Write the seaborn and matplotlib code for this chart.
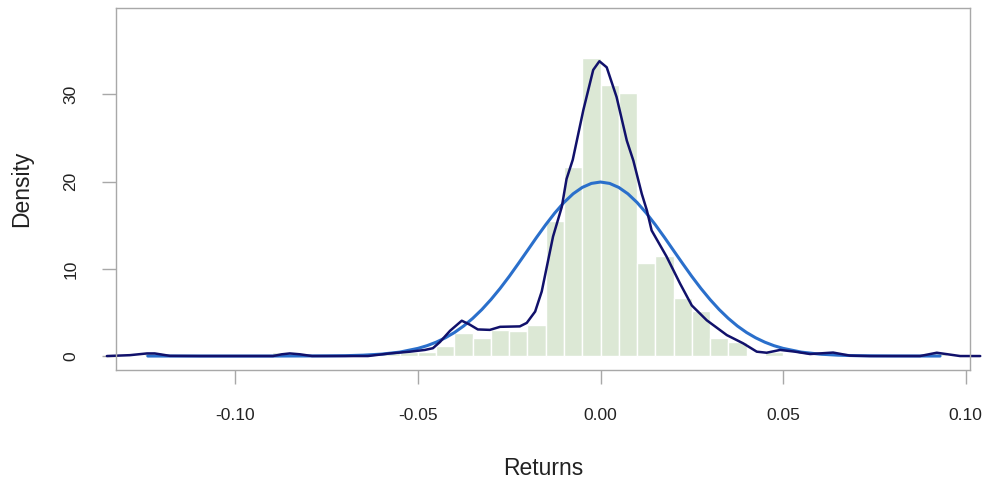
import matplotlib
matplotlib.use("Agg")
import matplotlib.pyplot as plt
import seaborn as sns
import numpy as np

# ---- data ----
bin_edges = [-0.125, -0.120, -0.115, -0.110, -0.105, -0.100, -0.095, -0.090, -0.085,
             -0.080, -0.075, -0.070, -0.065, -0.060, -0.055, -0.050, -0.045, -0.040,
             -0.035, -0.030, -0.025, -0.020, -0.015, -0.010, -0.005, 0.000, 0.005,
             0.010, 0.015, 0.020, 0.025, 0.030, 0.035, 0.040, 0.045, 0.050, 0.055,
             0.060, 0.065, 0.070, 0.075, 0.080, 0.085, 0.090, 0.095]
bin_density = [0.5, 0, 0, 0, 0, 0, 0, 0.5,
               0, 0, 0, 0, 0, 0.5, 0.5, 0.5,
               1.1, 2.6, 2.1, 3.0, 2.9, 3.6, 15.5, 21.7, 34.2,
               31.1, 30.2, 10.7, 11.5, 6.7, 5.2, 2.1, 1.6,
               0, 0.5, 0, 0, 0.5, 0, 0, 0, 0, 0, 0.5]

kde_x = [-0.1352, -0.1289, -0.1242, -0.1221, -0.1179, -0.1097, -0.0897, -0.0873, -0.0851,
         -0.0823, -0.0790, -0.0637, -0.0577, -0.0522, -0.0481, -0.0459, -0.0440, -0.0412,
         -0.0380, -0.0358, -0.0336, -0.0303, -0.0275, -0.0221, -0.0202, -0.0179, -0.0161,
         -0.0130, -0.0106, -0.0093, -0.0076, -0.0047, -0.0020, -0.0003, 0.0017, 0.0044,
         0.0072, 0.0090, 0.0113, 0.0127, 0.0140, 0.0181, 0.0218, 0.0250, 0.0291, 0.0346,
         0.0391, 0.0428, 0.0455, 0.0492, 0.0533, 0.0574, 0.0637, 0.0683, 0.0738, 0.0875,
         0.0921, 0.0985, 0.1040]
kde_y = [0.0, 0.1, 0.3, 0.3, 0.02, 0.0, 0.0, 0.2, 0.3,
         0.2, 0.0, 0.0, 0.3, 0.5, 0.7, 0.9, 1.6, 2.9,
         4.05, 3.6, 3.05, 3.0, 3.35, 3.4, 3.8, 5.1, 7.4,
         13.7, 17.1, 20.3, 22.5, 28.2, 32.8, 33.8, 33.1, 29.7,
         24.7, 22.4, 18.6, 16.7, 14.4, 11.4, 8.3, 5.8, 4.1, 2.4,
         1.45, 0.5, 0.38, 0.7, 0.5, 0.23, 0.4, 0.05, 0.0, 0.0,
         0.38, 0.0, 0.0]

norm_x = [-0.124, -0.090, -0.080, -0.075, -0.070, -0.065, -0.060, -0.055, -0.050, -0.0475,
          -0.045, -0.0425, -0.040, -0.0375, -0.035, -0.0325, -0.030, -0.0275, -0.025,
          -0.0225, -0.020, -0.0175, -0.015, -0.0125, -0.010, -0.0075, -0.005, -0.0025,
          0.0, 0.0025, 0.005, 0.0075, 0.010, 0.0125, 0.015, 0.0175, 0.020, 0.0225,
          0.025, 0.0275, 0.030, 0.0325, 0.035, 0.0375, 0.040, 0.0425, 0.045, 0.0475,
          0.050, 0.055, 0.060, 0.065, 0.070, 0.075, 0.080, 0.093]
norm_y = [0.0, 0.0, 0.01, 0.02, 0.04, 0.10, 0.22, 0.45, 0.88, 1.19,
          1.59, 2.09, 2.70, 3.44, 4.32, 5.33, 6.48, 7.75, 9.13,
          10.60, 12.10, 13.61, 15.06, 16.41, 17.61, 18.60, 19.33, 19.79,
          19.95, 19.79, 19.33, 18.60, 17.61, 16.41, 15.06, 13.61, 12.10, 10.60,
          9.13, 7.75, 6.48, 5.33, 4.32, 3.44, 2.70, 2.09, 1.59, 1.19,
          0.88, 0.45, 0.22, 0.10, 0.04, 0.02, 0.01, 0.0]

x_ticks = [-0.10, -0.05, 0.00, 0.05, 0.10]
x_tick_labels = ["-0.10", "-0.05", "0.00", "0.05", "0.10"]
y_ticks = [0, 10, 20, 30]
y_tick_labels = ["0", "10", "20", "30"]
x_label = "Returns"
y_label = "Density"

# ---- style ----
sns.set_style("white")
plt.rcParams['font.family'] = ['Liberation Sans', 'DejaVu Sans']

W, H = 986, 479
fig = plt.figure(figsize=(W / 100, H / 100), dpi=100)
ax = fig.add_axes([116 / W, 1 - 370 / H, (970 - 116) / W, (370 - 8) / H])

centers = [(bin_edges[i] + bin_edges[i + 1]) / 2 for i in range(len(bin_density))]
sns.histplot(x=centers, weights=bin_density, bins=bin_edges, stat="count",
             color="#dce8d5", edgecolor="white", linewidth=1.0, alpha=1.0, ax=ax)

sns.lineplot(x=norm_x, y=norm_y, color="#2a6fcb", linewidth=2.2, sort=False,
             estimator=None, ax=ax, clip_on=False, solid_joinstyle="round")
sns.lineplot(x=kde_x, y=kde_y, color="#11116b", linewidth=1.8, sort=False,
             estimator=None, ax=ax, clip_on=False, solid_joinstyle="round")

ax.set_xlim(-0.1327, 0.1012)
ax.set_ylim(-1.6, 39.9)

ax.set_xticks(x_ticks)
ax.set_xticklabels(x_tick_labels)
ax.set_yticks(y_ticks)
ax.set_yticklabels(y_tick_labels, rotation=90, va="center")

for s in ax.spines.values():
    s.set_color("#a8a8a8")
    s.set_linewidth(1.0)
    s.set_visible(True)

ax.tick_params(axis="both", which="major", length=10, width=1.0, color="#a8a8a8",
               labelsize=12.5, labelcolor="#222222", direction="out",
               bottom=True, left=True)
ax.tick_params(axis="x", pad=17)
ax.tick_params(axis="y", pad=17)
ax.set_xlabel(x_label, fontsize=16.5, color="#222222", labelpad=25)
ax.set_ylabel(y_label, fontsize=16.5, color="#222222", labelpad=22)

fig.savefig("out.png", dpi=100, facecolor="white")
